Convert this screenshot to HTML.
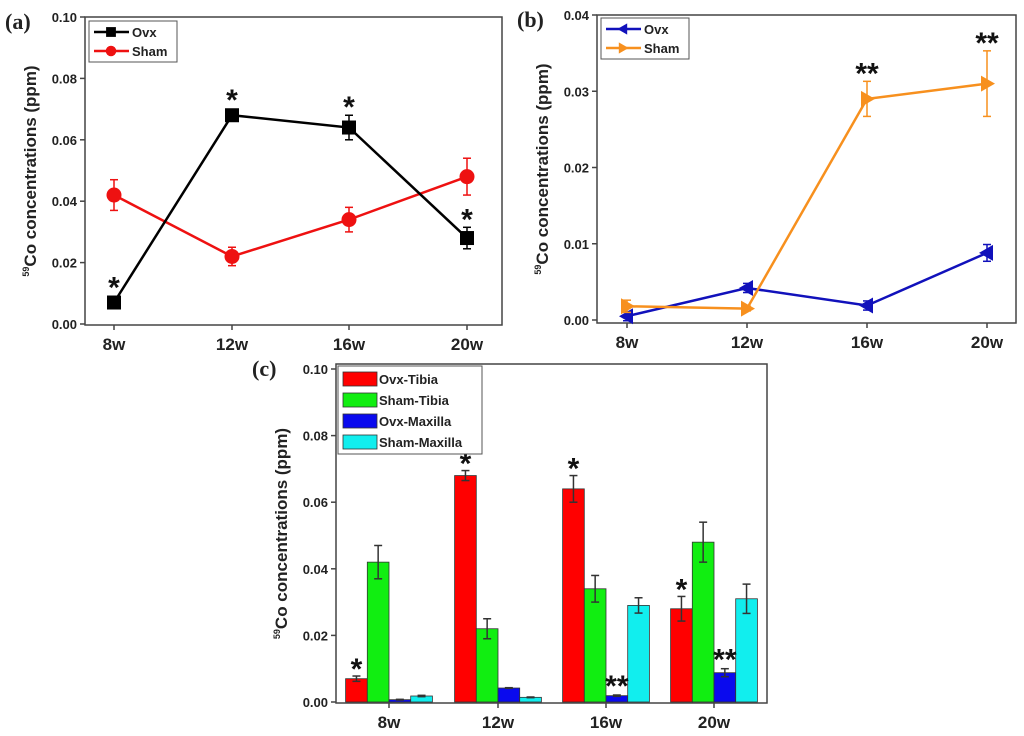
<!DOCTYPE html>
<html><head><meta charset="utf-8">
<style>
html,body{margin:0;padding:0;background:#fff;}
svg{display:block;font-family:"Liberation Sans",Arial,sans-serif;}
</style></head>
<body>
<svg id="fig" width="1024" height="736" viewBox="0 0 1024 736"></svg>
<script>
const categories = ["8w","12w","16w","20w"];
const aOvx = [0.007,0.068,0.064,0.028];
const aOvxErr = [0.001,0.0015,0.004,0.0035];
const aSham = [0.042,0.022,0.034,0.048];
const aShamErr = [0.005,0.003,0.004,0.006];
const aTicks = ["0.00","0.02","0.04","0.06","0.08","0.10"];
const aStars = ["*","*","*","*"];
const bOvx = [0.0005,0.0042,0.0019,0.0088];
const bOvxErr = [0.0006,0.0006,0.0006,0.0011];
const bSham = [0.0018,0.0015,0.029,0.031];
const bShamErr = [0.0008,0.0003,0.0023,0.0043];
const bTicks = ["0.00","0.01","0.02","0.03","0.04"];
const bStars = ["","","**","**"];
const cOvxTibia = [0.007,0.068,0.064,0.028];
const cOvxTibiaErr = [0.0008,0.0015,0.004,0.0037];
const cShamTibia = [0.042,0.022,0.034,0.048];
const cShamTibiaErr = [0.005,0.003,0.004,0.006];
const cOvxMax = [0.0007,0.0042,0.0019,0.0088];
const cOvxMaxErr = [0.0001,0.0001,0.0002,0.0012];
const cShamMax = [0.0018,0.0014,0.029,0.031];
const cShamMaxErr = [0.0002,0.0001,0.0023,0.0044];
const cStarsRed = ["*","*","*","*"];
const cStarsBlue = ["","","**","**"];

const svg = document.getElementById('fig');
const NS = 'http://www.w3.org/2000/svg';
function mk(tag, at, parent){const e=document.createElementNS(NS,tag);for(const k in at)e.setAttribute(k,at[k]);(parent||svg).appendChild(e);return e;}
function txt(s,at,parent){const e=mk('text',at,parent);e.textContent=s;return e;}

function panel(cfg){
  const g = mk('g',{});
  
  
  const y = v => cfg.y0 + (cfg.y1 - cfg.y0) * (v / cfg.ymax);
  const x = i => cfg.xt[i];
  const frame = mk('rect',{x:cfg.L,y:cfg.T,width:cfg.R-cfg.L,height:cfg.B-cfg.T,fill:'none',stroke:'#444','stroke-width':1.5},g);
  
  
  cfg.ticks.forEach((t,i)=>{
    const v = cfg.ymax*i/(cfg.ticks.length-1);
    mk('line',{x1:cfg.L-5,x2:cfg.L,y1:y(v),y2:y(v),stroke:'#444','stroke-width':1.5},g);
    const tl = txt(t,{x:cfg.L-8,y:y(v)+5,'text-anchor':'end','font-size':13,'font-weight':'bold',fill:'#222'},g);
    
    
  });
  categories.forEach((c,i)=>{
    mk('line',{x1:x(i),x2:x(i),y1:cfg.B,y2:cfg.B+5,stroke:'#444','stroke-width':1.5},g);
    const tl = txt(c,{x:x(i),y:cfg.B+25,'text-anchor':'middle','font-size':17,'font-weight':'bold',fill:'#222'},g);
    
    
  });
  const cy=(cfg.T+cfg.B)/2;
  const yt = mk('text',{transform:`translate(${cfg.L-49},${cy}) rotate(-90)`,'text-anchor':'middle','font-size':17,'font-weight':'bold',fill:'#222'},g);
  
  
  const sup=document.createElementNS(NS,'tspan');sup.setAttribute('font-size',9);sup.setAttribute('dy',-7);sup.textContent='59';yt.appendChild(sup);
  const rest=document.createElementNS(NS,'tspan');rest.setAttribute('dy',7);rest.textContent='Co concentrations (ppm)';yt.appendChild(rest);
  const pl = txt(cfg.label,{x:cfg.lx,y:cfg.T+12,'font-size':22,'font-weight':'bold','font-family':'"Liberation Serif",serif',fill:'#222'},g);
  
  
  return {g,x,y};
}

function errbar(g,xc,yv,ev,y,color,cap){
  mk('line',{x1:xc,x2:xc,y1:y(yv-ev),y2:y(yv+ev),stroke:color,'stroke-width':1.5},g);
  mk('line',{x1:xc-cap,x2:xc+cap,y1:y(yv+ev),y2:y(yv+ev),stroke:color,'stroke-width':1.5},g);
  mk('line',{x1:xc-cap,x2:xc+cap,y1:y(yv-ev),y2:y(yv-ev),stroke:color,'stroke-width':1.5},g);
}

function marker(g,type,cx,cy,color){
  let e;
  if(type==='sq') e=mk('rect',{x:cx-7,y:cy-7,width:14,height:14,fill:color},g);
  else if(type==='ci') e=mk('circle',{cx,cy,r:7.5,fill:color},g);
  else if(type==='lt') e=mk('polygon',{points:`${cx-8},${cy} ${cx+6},${cy-8} ${cx+6},${cy+8}`,fill:color},g);
  else e=mk('polygon',{points:`${cx+8},${cy} ${cx-6},${cy-8} ${cx-6},${cy+8}`,fill:color},g);
  return e;
}

function lineSeries(p,vals,errs,color,type,name){
  const sg=mk('g',{},p.g);
  
  
  mk('polyline',{points:vals.map((v,i)=>`${p.x(i)},${p.y(v)}`).join(' '),fill:'none',stroke:color,'stroke-width':2.5},sg);
  vals.forEach((v,i)=>{errbar(sg,p.x(i),v,errs[i],p.y,color,4);
    const m=marker(sg,type,p.x(i),p.y(v),color);
    
    });
}

function starAt(g,s,xc,top){
  const t=txt(s,{x:xc,y:top+2,'text-anchor':'middle','font-size':30,'font-weight':'bold',fill:'#111'},g);
  
  
}
function stars(p,vals,errs,list,mk8){
  list.forEach((s,i)=>{ if(!s) return;
    const top=Math.min(p.y(vals[i]+errs[i]),p.y(vals[i])-(mk8||7));
    starAt(p.g,s,p.x(i),top);});
}

function legend(g,x0,y0,w,h,items,kind){
  const lg=mk('g',{},g);
  
  
  mk('rect',{x:x0,y:y0,width:w,height:h,fill:'#fff',stroke:'#555','stroke-width':1},lg);
  items.forEach((it,i)=>{
    const ig=mk('g',{},lg);
    
    
    if(kind==='line'){
      const cy=y0+11+i*19;
      mk('line',{x1:x0+5,x2:x0+40,y1:cy,y2:cy,stroke:it.c,'stroke-width':2.5},ig);
      const m=marker(ig,it.t,x0+22,cy,it.c);m.setAttribute('transform',`translate(${x0+22},${cy}) scale(0.7) translate(${-(x0+22)},${-cy})`);
      txt(it.n,{x:x0+43,y:cy+5,'font-size':13,'font-weight':'bold',fill:'#222'},ig);
    } else {
      const cy=y0+13+i*21;
      mk('rect',{x:x0+5,y:cy-7,width:34,height:14,fill:it.c,stroke:'#333','stroke-width':0.8},ig);
      txt(it.n,{x:x0+41,y:cy+5,'font-size':13,'font-weight':'bold',fill:'#222'},ig);
    }
  });
}

// Panel A
const pa = panel({name:'panel-a-line-chart',L:85,R:502,T:17,B:325,y0:324,y1:17,ymax:0.10,xt:[114,232,349,467],ticks:aTicks,label:'(a)',lx:5});
lineSeries(pa,aSham,aShamErr,'#ee1111','ci','sham-series');
lineSeries(pa,aOvx,aOvxErr,'#000000','sq','ovx-series');
stars(pa,aOvx,aOvxErr,aStars,7);
legend(pa.g,89,21,88,41,[{n:'Ovx',c:'#000',t:'sq'},{n:'Sham',c:'#ee1111',t:'ci'}],'line');

// Panel B
const pb = panel({name:'panel-b-line-chart',L:597,R:1016,T:15,B:323,y0:320,y1:15,ymax:0.04,xt:[627,747,867,987],ticks:bTicks,label:'(b)',lx:517});
lineSeries(pb,bOvx,bOvxErr,'#1111bb','lt','ovx-series');
lineSeries(pb,bSham,bShamErr,'#f7901e','rt','sham-series');
stars(pb,bSham,bShamErr,bStars,8);
legend(pb.g,601,18,88,41,[{n:'Ovx',c:'#1111bb',t:'lt'},{n:'Sham',c:'#f7901e',t:'rt'}],'line');

// Panel C
const pc = panel({name:'panel-c-bar-chart',L:336,R:767,T:364,B:703,y0:702,y1:369,ymax:0.10,xt:[389,498,606,714],ticks:aTicks,label:'(c)',lx:252});
const bw=21.7;
const seriesC=[[cOvxTibia,cOvxTibiaErr,'#ff0000','ovx-tibia'],[cShamTibia,cShamTibiaErr,'#11ee11','sham-tibia'],[cOvxMax,cOvxMaxErr,'#0a0aee','ovx-maxilla'],[cShamMax,cShamMaxErr,'#11eeee','sham-maxilla']];
seriesC.forEach((s,k)=>{
  s[0].forEach((v,i)=>{
    const xl=pc.x(i)-2*bw+k*bw;
    const r=mk('rect',{x:xl,y:pc.y(v),width:bw,height:pc.y(0)-pc.y(v),fill:s[2],stroke:'#333','stroke-width':0.8},pc.g);
    
    
    errbar(pc.g,xl+bw/2,v,s[1][i],pc.y,'#333',4);
  });
});
cStarsRed.forEach((s,i)=>{ if(!s)return;
  starAt(pc.g,s,pc.x(i)-1.5*bw,pc.y(cOvxTibia[i]+cOvxTibiaErr[i])+1);});
cStarsBlue.forEach((s,i)=>{ if(!s)return;
  starAt(pc.g,s,pc.x(i)+0.5*bw,pc.y(cOvxMax[i]+cOvxMaxErr[i])-1);});
legend(pc.g,338,366,144,88,[{n:'Ovx-Tibia',c:'#ff0000'},{n:'Sham-Tibia',c:'#11ee11'},{n:'Ovx-Maxilla',c:'#0a0aee'},{n:'Sham-Maxilla',c:'#11eeee'}],'bar');
</script>
</body></html>
